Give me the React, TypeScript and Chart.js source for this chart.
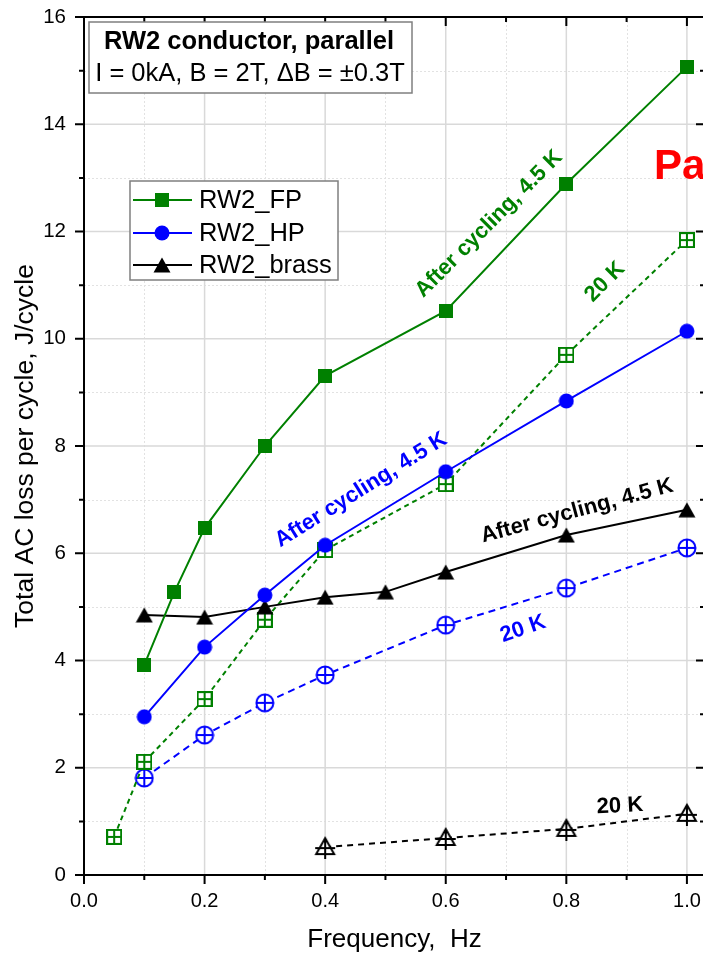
import React, { useEffect, useRef } from 'react';
import { Chart, registerables } from 'chart.js';

Chart.register(...registerables);

const FONT = '"Liberation Sans", Arial, sans-serif';
const GREEN = '#008000';
const BLUE = '#0000ff';
const BLACK = '#000000';

// ---- data ----
const fpFreq = [0.1, 0.15, 0.2, 0.3, 0.4, 0.6, 0.8, 1.0];
const fpLoss = [3.92, 5.28, 6.47, 8.0, 9.31, 10.52, 12.89, 15.07];
const fp20Freq = [0.05, 0.1, 0.2, 0.3, 0.4, 0.6, 0.8, 1.0];
const fp20Loss = [0.71, 2.11, 3.28, 4.76, 6.06, 7.29, 9.7, 11.84];
const hpFreq = [0.1, 0.2, 0.3, 0.4, 0.6, 0.8, 1.0];
const hpLoss = [2.95, 4.25, 5.22, 6.15, 7.52, 8.84, 10.14];
const hp20Freq = [0.1, 0.2, 0.3, 0.4, 0.6, 0.8, 1.0];
const hp20Loss = [1.81, 2.61, 3.21, 3.73, 4.66, 5.35, 6.1];
const brassFreq = [0.1, 0.2, 0.3, 0.4, 0.5, 0.6, 0.8, 1.0];
const brassLoss = [4.85, 4.81, 5.0, 5.18, 5.28, 5.65, 6.34, 6.81];
const brass20Freq = [0.4, 0.6, 0.8, 1.0];
const brass20Loss = [0.52, 0.69, 0.86, 1.14];

const legendLabels = ['RW2_FP', 'RW2_HP', 'RW2_brass'];
const xTickValues = [0, 0.2, 0.4, 0.6, 0.8, 1.0];
const xTickLabels = ['0.0', '0.2', '0.4', '0.6', '0.8', '1.0'];
const xMinorValues = [0.1, 0.3, 0.5, 0.7, 0.9];
const yTickValues = [0, 2, 4, 6, 8, 10, 12, 14, 16];
const yTickLabels = ['0', '2', '4', '6', '8', '10', '12', '14', '16'];
const yMinorValues = [1, 3, 5, 7, 9, 11, 13, 15];
const titleLines = ['RW2 conductor, parallel', 'I = 0kA, B = 2T, \u0394B = \u00b10.3T'];
const xTitle = 'Frequency,  Hz';
const yTitle = 'Total AC loss per cycle, J/cycle';
const annCycling = 'After cycling, 4.5 K';
const ann20K = '20 K';
const sideLabel = 'Parallel';

const pts = (xs: number[], ys: number[]) => xs.map((x, i) => ({ x, y: ys[i] }));

function makeCanvas(w: number, h: number, draw: (ctx: CanvasRenderingContext2D) => void) {
  const c = document.createElement('canvas');
  c.width = w;
  c.height = h;
  const ctx = c.getContext('2d')!;
  draw(ctx);
  return c;
}

function buildMarkers() {
  const fpSolid = makeCanvas(14, 14, (c) => {
    c.fillStyle = GREEN;
    c.fillRect(0, 0, 14, 14);
  });
  const fpOpen = makeCanvas(16, 16, (c) => {
    c.fillStyle = '#fff';
    c.fillRect(1, 1, 14, 14);
    c.strokeStyle = GREEN;
    c.lineWidth = 2;
    c.strokeRect(1, 1, 14, 14);
    c.beginPath();
    c.moveTo(8, 1);
    c.lineTo(8, 15);
    c.moveTo(1, 8);
    c.lineTo(15, 8);
    c.stroke();
  });
  const hpSolid = makeCanvas(16, 16, (c) => {
    c.fillStyle = BLUE;
    c.beginPath();
    c.arc(8, 8, 7.5, 0, Math.PI * 2);
    c.fill();
  });
  const hpOpen = makeCanvas(20, 20, (c) => {
    c.fillStyle = '#fff';
    c.strokeStyle = BLUE;
    c.lineWidth = 2;
    c.beginPath();
    c.arc(10, 10, 8.5, 0, Math.PI * 2);
    c.fill();
    c.stroke();
    c.beginPath();
    c.moveTo(10, 1.5);
    c.lineTo(10, 18.5);
    c.moveTo(1.5, 10);
    c.lineTo(18.5, 10);
    c.stroke();
  });
  const brSolid = makeCanvas(18, 16, (c) => {
    c.fillStyle = BLACK;
    c.beginPath();
    c.moveTo(9, 0.5);
    c.lineTo(17.5, 15.5);
    c.lineTo(0.5, 15.5);
    c.closePath();
    c.fill();
  });
  const brOpen = makeCanvas(24, 24, (c) => {
    c.fillStyle = '#fff';
    c.strokeStyle = BLACK;
    c.lineWidth = 2;
    c.beginPath();
    c.moveTo(12, 3);
    c.lineTo(21, 19);
    c.lineTo(3, 19);
    c.closePath();
    c.fill();
    c.stroke();
    c.beginPath();
    c.moveTo(12, 3);
    c.lineTo(12, 24);
    c.moveTo(2, 13);
    c.lineTo(22, 13);
    c.stroke();
  });
  return { fpSolid, fpOpen, hpSolid, hpOpen, brSolid, brOpen };
}

function drawRotText(
  ctx: CanvasRenderingContext2D,
  text: string,
  cx: number,
  cy: number,
  deg: number,
  color: string,
  font: string
) {
  ctx.save();
  ctx.translate(cx, cy);
  ctx.rotate((deg * Math.PI) / 180);
  ctx.font = font;
  ctx.fillStyle = color;
  ctx.textAlign = 'center';
  ctx.textBaseline = 'middle';
  ctx.fillText(text, 0, 0);
  ctx.restore();
}

export default function App() {
  const ref = useRef<HTMLCanvasElement>(null);

  useEffect(() => {
    const m = buildMarkers();

    const decor = {
      id: 'decor',
      beforeDatasetsDraw(chart: any) {
        const { ctx, chartArea: a, scales } = chart;
        const x = scales.x;
        const y = scales.y;
        ctx.save();
        ctx.lineWidth = 1;
        ctx.strokeStyle = '#e2e2e2';
        ctx.setLineDash([2, 2]);
        ctx.beginPath();
        xMinorValues.forEach((v) => {
          const p = Math.round(x.getPixelForValue(v)) + 0.5;
          ctx.moveTo(p, a.top);
          ctx.lineTo(p, a.bottom);
        });
        yMinorValues.forEach((v) => {
          const p = Math.round(y.getPixelForValue(v)) + 0.5;
          ctx.moveTo(a.left, p);
          ctx.lineTo(a.right, p);
        });
        ctx.stroke();
        ctx.setLineDash([]);
        ctx.strokeStyle = '#d9d9d9';
        ctx.lineWidth = 1.5;
        ctx.beginPath();
        xTickValues.slice(1).forEach((v) => {
          const p = x.getPixelForValue(v);
          ctx.moveTo(p, a.top);
          ctx.lineTo(p, a.bottom);
        });
        yTickValues.slice(1, -1).forEach((v) => {
          const p = y.getPixelForValue(v);
          ctx.moveTo(a.left, p);
          ctx.lineTo(a.right, p);
        });
        ctx.stroke();
        ctx.restore();
      },
      afterDatasetsDraw(chart: any) {
        const { ctx, chartArea: a, scales } = chart;
        const x = scales.x;
        const y = scales.y;
        ctx.save();
        // frame
        ctx.strokeStyle = '#000';
        ctx.lineWidth = 2;
        ctx.strokeRect(a.left, a.top, a.right - a.left, a.bottom - a.top);
        // ticks
        ctx.beginPath();
        const major = 9;
        const minor = 5;
        xTickValues.forEach((v) => {
          const p = x.getPixelForValue(v);
          ctx.moveTo(p, a.bottom);
          ctx.lineTo(p, a.bottom + major);
          ctx.moveTo(p, a.top);
          ctx.lineTo(p, a.top + major);
        });
        xMinorValues.forEach((v) => {
          const p = x.getPixelForValue(v);
          ctx.moveTo(p, a.bottom);
          ctx.lineTo(p, a.bottom + minor);
          ctx.moveTo(p, a.top);
          ctx.lineTo(p, a.top + minor);
        });
        yTickValues.forEach((v) => {
          const p = y.getPixelForValue(v);
          ctx.moveTo(a.left - major, p);
          ctx.lineTo(a.left, p);
          ctx.moveTo(a.right - major, p);
          ctx.lineTo(a.right, p);
        });
        yMinorValues.forEach((v) => {
          const p = y.getPixelForValue(v);
          ctx.moveTo(a.left - minor, p);
          ctx.lineTo(a.left, p);
          ctx.moveTo(a.right - minor, p);
          ctx.lineTo(a.right, p);
        });
        ctx.stroke();

        // annotations
        const bold = `bold 22px ${FONT}`;
        drawRotText(ctx, annCycling, 489, 224, -45, GREEN, bold);
        drawRotText(ctx, ann20K, 605, 282, -45, GREEN, bold);
        drawRotText(ctx, annCycling, 361, 490, -32, BLUE, bold);
        drawRotText(ctx, ann20K, 523, 629, -19, BLUE, bold);
        drawRotText(ctx, annCycling, 577, 511, -15, BLACK, bold);
        drawRotText(ctx, ann20K, 620, 806, -3, BLACK, bold);
        ctx.font = `bold 42px ${FONT}`;
        ctx.fillStyle = '#ff0000';
        ctx.textAlign = 'left';
        ctx.textBaseline = 'alphabetic';
        ctx.fillText(sideLabel, 654, 179);

        // title box
        ctx.fillStyle = '#fff';
        ctx.fillRect(89, 22, 323, 71);
        ctx.strokeStyle = '#7f7f7f';
        ctx.lineWidth = 1.5;
        ctx.strokeRect(89, 22, 323, 71);
        ctx.fillStyle = '#000';
        ctx.textAlign = 'center';
        ctx.textBaseline = 'middle';
        ctx.font = `bold 25.5px ${FONT}`;
        ctx.fillText(titleLines[0], 249, 42);
        ctx.font = `25.5px ${FONT}`;
        ctx.fillText(titleLines[1], 250, 74);

        // legend
        ctx.fillStyle = '#fff';
        ctx.fillRect(130, 181, 208, 99);
        ctx.strokeStyle = '#7f7f7f';
        ctx.lineWidth = 1.5;
        ctx.strokeRect(130, 181, 208, 99);
        const rows = [
          { c: GREEN, img: m.fpSolid, y: 200 },
          { c: BLUE, img: m.hpSolid, y: 233 },
          { c: BLACK, img: m.brSolid, y: 265 },
        ];
        rows.forEach((r, i) => {
          ctx.strokeStyle = r.c;
          ctx.lineWidth = 2;
          ctx.beginPath();
          ctx.moveTo(133, r.y);
          ctx.lineTo(192, r.y);
          ctx.stroke();
          ctx.drawImage(r.img, 162 - r.img.width / 2, r.y - r.img.height / 2);
          ctx.fillStyle = '#000';
          ctx.font = `25.5px ${FONT}`;
          ctx.textAlign = 'left';
          ctx.textBaseline = 'middle';
          ctx.fillText(legendLabels[i], 199, r.y + 1);
        });
        ctx.restore();
      },
    };

    const line = (data: any, color: string, img: any, dash: number[] | undefined) => ({
      data,
      borderColor: color,
      backgroundColor: color,
      borderWidth: 2,
      borderDash: dash || [],
      pointStyle: img,
      pointRadius: 8,
      showLine: true,
      tension: 0,
    });

    const chart = new Chart(ref.current!, {
      type: 'scatter',
      data: {
        datasets: [
          line(pts(fpFreq, fpLoss), GREEN, m.fpSolid, undefined),
          line(pts(hpFreq, hpLoss), BLUE, m.hpSolid, undefined),
          line(pts(brassFreq, brassLoss), BLACK, m.brSolid, undefined),
          line(pts(fp20Freq, fp20Loss), GREEN, m.fpOpen, [5, 4]),
          line(pts(hp20Freq, hp20Loss), BLUE, m.hpOpen, [7, 5]),
          line(pts(brass20Freq, brass20Loss), BLACK, m.brOpen, [6, 5]),
        ],
      },
      options: {
        responsive: false,
        maintainAspectRatio: false,
        animation: false,
        devicePixelRatio: 1,
        layout: { padding: { left: 0, right: 55, top: 17, bottom: 0 } },
        plugins: { legend: { display: false }, tooltip: { enabled: false } },
        scales: {
          x: {
            type: 'linear',
            min: 0,
            max: 1.03,
            afterFit: (s: any) => {
              s.height = 80;
              s.paddingLeft = 0;
              s.paddingRight = 0;
            },
            afterBuildTicks: (s: any) => {
              s.ticks = xTickValues.map((v) => ({ value: v }));
            },
            grid: { display: false, drawTicks: false },
            border: { display: false },
            ticks: {
              padding: 14,
              color: '#000',
              font: { family: FONT, size: 20 },
              maxRotation: 0,
              autoSkip: false,
              callback: (_v: any, i: number) => xTickLabels[i],
            },
            title: {
              display: true,
              text: xTitle,
              color: '#000',
              font: { family: FONT, size: 26 },
              padding: { top: 0, bottom: 0 },
            },
          },
          y: {
            type: 'linear',
            min: 0,
            max: 16,
            afterFit: (s: any) => {
              s.width = 84;
              s.paddingTop = 0;
              s.paddingBottom = 0;
            },
            afterBuildTicks: (s: any) => {
              s.ticks = yTickValues.map((v) => ({ value: v }));
            },
            grid: { display: false, drawTicks: false },
            border: { display: false },
            ticks: {
              padding: 18,
              color: '#000',
              font: { family: FONT, size: 20.5 },
              autoSkip: false,
              callback: (_v: any, i: number) => yTickLabels[i],
            },
            title: {
              display: true,
              text: yTitle,
              color: '#000',
              font: { family: FONT, size: 26.5 },
              padding: { top: 10, bottom: 0 },
            },
          },
        },
      },
      plugins: [decor],
    });
    return () => chart.destroy();
  }, []);

  return (
    <div
      style={{
        position: 'fixed',
        left: 0,
        top: 0,
        width: 703,
        height: 955,
        overflow: 'hidden',
        background: '#fff',
      }}
    >
      <canvas ref={ref} width={760} height={955} style={{ width: 760, height: 955, display: 'block' }} />
    </div>
  );
}
